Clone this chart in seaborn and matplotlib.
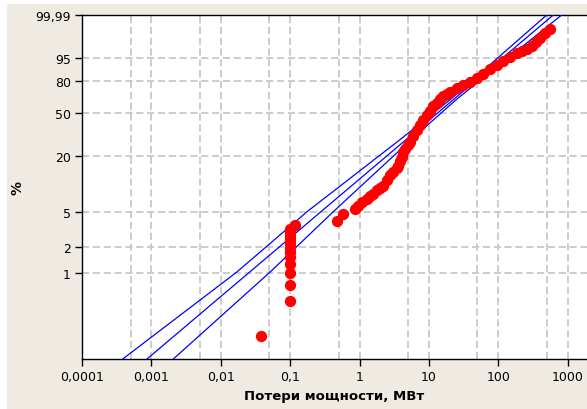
import numpy as np
import pandas as pd
import matplotlib
matplotlib.use("Agg")
import matplotlib.pyplot as plt
from matplotlib.patches import Rectangle
import seaborn as sns

# observed losses (MW) and their cumulative probability (%)
loss_mw = [0.038,
           0.1, 0.1, 0.1, 0.1, 0.1, 0.1, 0.1, 0.1, 0.1, 0.1, 0.1, 0.1, 0.1,
           0.117, 0.47, 0.58, 0.86, 0.96, 1.08, 1.27, 1.41, 1.57, 1.76, 1.97,
           2.20, 2.46, 2.74, 3.06, 3.43, 3.61, 3.82, 4.04, 4.27, 4.51, 4.98,
           5.32, 5.94, 6.65, 7.41, 8.28, 9.27, 10.3, 11.5, 12.9, 14.4, 16.1,
           18.0, 20.1, 25.1, 31.2, 39.0, 48.7, 60.6, 75.7, 94.6, 118, 147,
           184, 217, 256, 302, 348, 397, 469, 555]
prob_pct = [0.19,
            0.48, 0.73, 1.01, 1.28, 1.53, 1.75, 1.94, 2.16, 2.39, 2.59, 2.80, 3.02, 3.19,
            3.54, 3.92, 4.64, 5.34, 5.81, 6.34, 6.89, 7.35, 7.83, 8.66, 9.12,
            9.65, 11.1, 12.6, 13.6, 15.1, 15.8, 17.7, 19.5, 21.7, 23.5, 25.7,
            27.3, 31.4, 35.7, 39.6, 43.7, 48.1, 51.8, 56.5, 59.4, 63.3, 66.2,
            68.1, 69.8, 73.8, 76.5, 79.2, 82.5, 85.6, 89.1, 91.5, 93.7, 95.2,
            96.6, 97.2, 97.65, 98.3, 98.9, 99.31, 99.67, 99.83]

# fitted line and confidence bounds
fit_x = [0.000864, 618]
fit_p = [0.1044, 99.99]
upper_x = [0.000386, 0.01694, 0.180, 3.95, 20.7, 497]
upper_p = [0.1044, 1.03, 5.07, 29.5, 63.3, 99.99]
lower_x = [0.00207, 0.0512, 0.428, 5.69, 25.3, 817]
lower_p = [0.1044, 1.03, 5.07, 29.5, 63.3, 99.99]

y_ticks = [1, 2, 5, 20, 50, 80, 95, 99.99]
y_labels = ["1", "2", "5", "20", "50", "80", "95", "99,99"]
x_ticks = [1e-4, 1e-3, 1e-2, 1e-1, 1, 10, 100, 1000]
x_labels = ["0,0001", "0,001", "0,01", "0,1", "1", "10", "100", "1000"]


def fwd(p):
    p = np.clip(np.asarray(p, dtype=float), 1e-6, 100 - 1e-9)
    return np.log(-np.log(1 - p / 100))


def inv(y):
    return 100 * (1 - np.exp(-np.exp(y)))


sns.set_theme(style="white")
plt.rcParams["font.family"] = ["DejaVu Sans"]

fig = plt.figure(figsize=(5.87, 4.10), dpi=100, facecolor="white")
fig.patches.append(Rectangle((7 / 587, 0), 1, 405 / 410, transform=fig.transFigure,
                             facecolor="#EFEBE2", edgecolor="none", zorder=-10))
ax = fig.add_axes([82 / 587, 50 / 410, 505 / 587, 344 / 410])
ax.set_zorder(5)
ax.set_facecolor("white")

ax.set_xscale("log")
ax.set_yscale("function", functions=(fwd, inv))

lines = pd.concat([
    pd.DataFrame({"x": upper_x, "p": upper_p, "s": "upper"}),
    pd.DataFrame({"x": fit_x, "p": fit_p, "s": "fit"}),
    pd.DataFrame({"x": lower_x, "p": lower_p, "s": "lower"}),
])
sns.lineplot(data=lines, x="x", y="p", units="s", estimator=None, sort=False,
             color="#0000FF", linewidth=0.9, ax=ax, zorder=3)

pts = pd.DataFrame({"x": loss_mw, "p": prob_pct})
sns.scatterplot(data=pts, x="x", y="p", color="#FF0000", s=66, linewidth=0,
                ax=ax, zorder=4)

ax.set_xticks(x_ticks)
ax.set_xticklabels(x_labels)
ax.set_xticks([5 * 10.0 ** k for k in range(-4, 3)], minor=True)
ax.set_yticks(y_ticks)
ax.set_yticklabels(y_labels)
ax.set_yticks([], minor=True)
ax.set_xlim(1e-4, 1892)
ax.set_ylim(0.1044, 99.99)

ax.tick_params(axis="both", which="major", direction="out", length=5, width=1,
               color="black", labelsize=9, labelcolor="black", pad=3,
               left=True, bottom=True)
ax.tick_params(axis="x", which="minor", length=0)

ax.set_axisbelow(True)
ax.grid(True, axis="x", which="both", color="#C8C8C8", linewidth=1.3,
        linestyle=(0, (4, 2)))
ax.grid(True, axis="y", which="major", color="#C8C8C8", linewidth=1.3,
        linestyle=(0, (4, 2)))

for side in ["left", "bottom", "top"]:
    ax.spines[side].set_color("black")
    ax.spines[side].set_linewidth(1.0)
ax.spines["right"].set_visible(False)

ax.set_xlabel("Потери мощности, МВт", fontsize=9.5, fontweight="bold",
              color="black", labelpad=4)
ax.set_ylabel("%", fontsize=10, fontweight="bold", color="black")
ax.yaxis.set_label_coords(-58 / 505, 0.5)

fig.savefig("out.png", dpi=100, facecolor=fig.get_facecolor())
